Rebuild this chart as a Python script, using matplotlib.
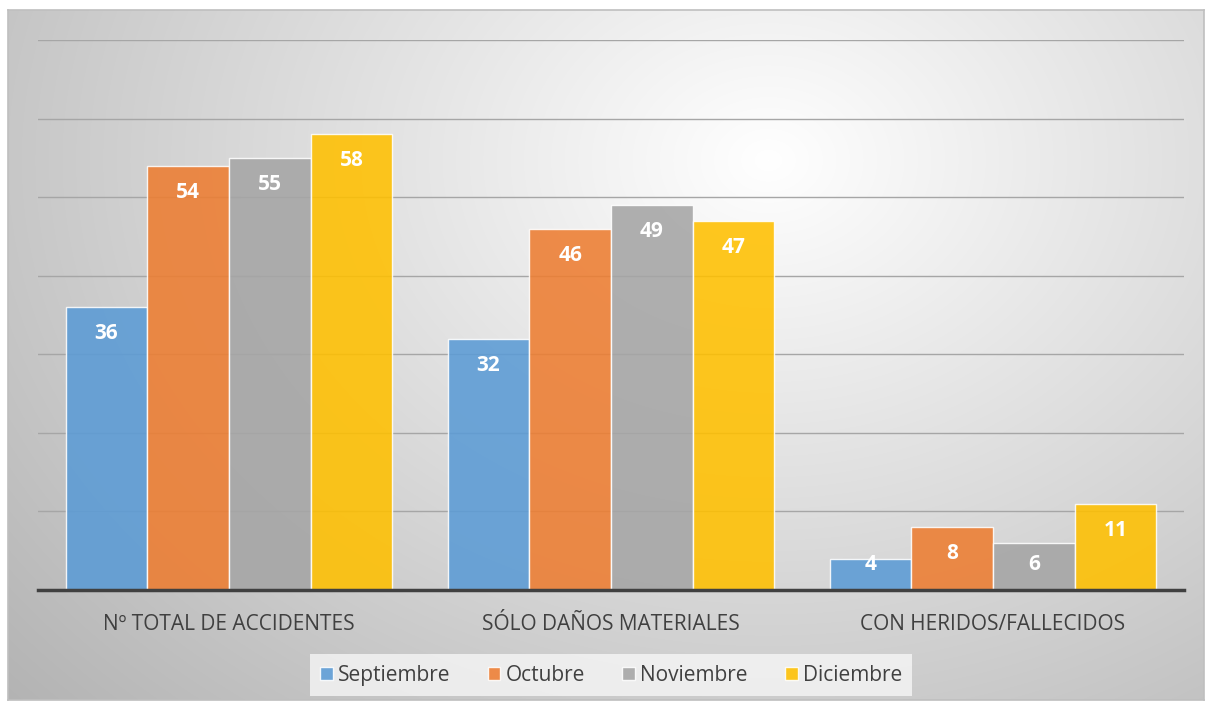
import numpy as np
import matplotlib.pyplot as plt

categorias = ['Nº TOTAL DE ACCIDENTES', 'SÓLO DAÑOS MATERIALES', 'CON HERIDOS/FALLECIDOS']
meses = ['Septiembre', 'Octubre', 'Noviembre', 'Diciembre']
septiembre = [36, 32, 4]
octubre = [54, 46, 8]
noviembre = [55, 49, 6]
diciembre = [58, 47, 11]
colores = ['#5B9BD5', '#ED7D31', '#A5A5A5', '#FFC000']

plt.rcParams['font.family'] = ['Open Sans', 'DejaVu Sans']

fig = plt.figure(figsize=(12.12, 7.04), dpi=100)
W, H = 1212, 704

# fondo con degradado radial dentro del marco
fx0, fy0, fx1, fy1 = 8, 10, 1204, 700
bg = fig.add_axes([fx0 / W, 1 - fy1 / H, (fx1 - fx0) / W, (fy1 - fy0) / H])
yy, xx = np.mgrid[0:fy1 - fy0, 0:fx1 - fx0]
d = np.sqrt(((xx - 760) / 900.0) ** 2 + ((yy - 150) / 700.0) ** 2)
g = np.clip(1.0 - 0.26 * d, 0, 1)
bg.imshow(np.dstack([g, g, g]), aspect='auto', extent=[0, 1, 0, 1], origin='upper')
bg.set_xticks([])
bg.set_yticks([])
for s in bg.spines.values():
    s.set_color('#BFBFBF')
    s.set_linewidth(1.2)

ax = fig.add_axes([38 / W, 1 - 590 / H, (1184 - 38) / W, (590 - 40) / H])
ax.patch.set_alpha(0)

x = np.arange(len(categorias))
ancho = 0.214
series = [septiembre, octubre, noviembre, diciembre]
for i, (vals, col, mes) in enumerate(zip(series, colores, meses)):
    pos = x + (i - 1.5) * ancho
    barras = ax.bar(pos, vals, ancho, color=col, alpha=0.88, edgecolor='white',
                    linewidth=1.0, label=mes, zorder=3)
    for b, v in zip(barras, vals):
        ax.text(b.get_x() + b.get_width() / 2, max(v - 3.4, 3.2), str(v), ha='center',
                va='center', color='white', fontsize=15, fontweight='bold', zorder=4)

ax.set_xlim(-0.5, 2.5)
ax.set_ylim(0, 70)
ax.set_yticks(np.arange(0, 71, 10))
ax.yaxis.grid(True, color='#A6A6A6', linewidth=1.0, zorder=1)
ax.set_yticklabels([])
ax.tick_params(axis='y', length=0)
ax.tick_params(axis='x', length=0, pad=17)
ax.set_xticks(x)
ax.set_xticklabels(categorias, fontsize=15, color='#404040')
for s in ['top', 'right', 'left']:
    ax.spines[s].set_visible(False)
ax.spines['bottom'].set_color('#404040')
ax.spines['bottom'].set_linewidth(2.5)
ax.spines['bottom'].set_zorder(5)

leg = ax.legend(loc='center', bbox_to_anchor=(0.5, -0.155), ncol=4, frameon=True,
                fontsize=15, handlelength=0.6, handleheight=0.6, handletextpad=0.25,
                columnspacing=1.8, borderpad=0.5, fancybox=False)
leg.get_frame().set_facecolor('#F9F9F9')
leg.get_frame().set_edgecolor('none')
leg.get_frame().set_alpha(0.75)
for t in leg.get_texts():
    t.set_color('#404040')

fig.savefig('out.png', dpi=100)
